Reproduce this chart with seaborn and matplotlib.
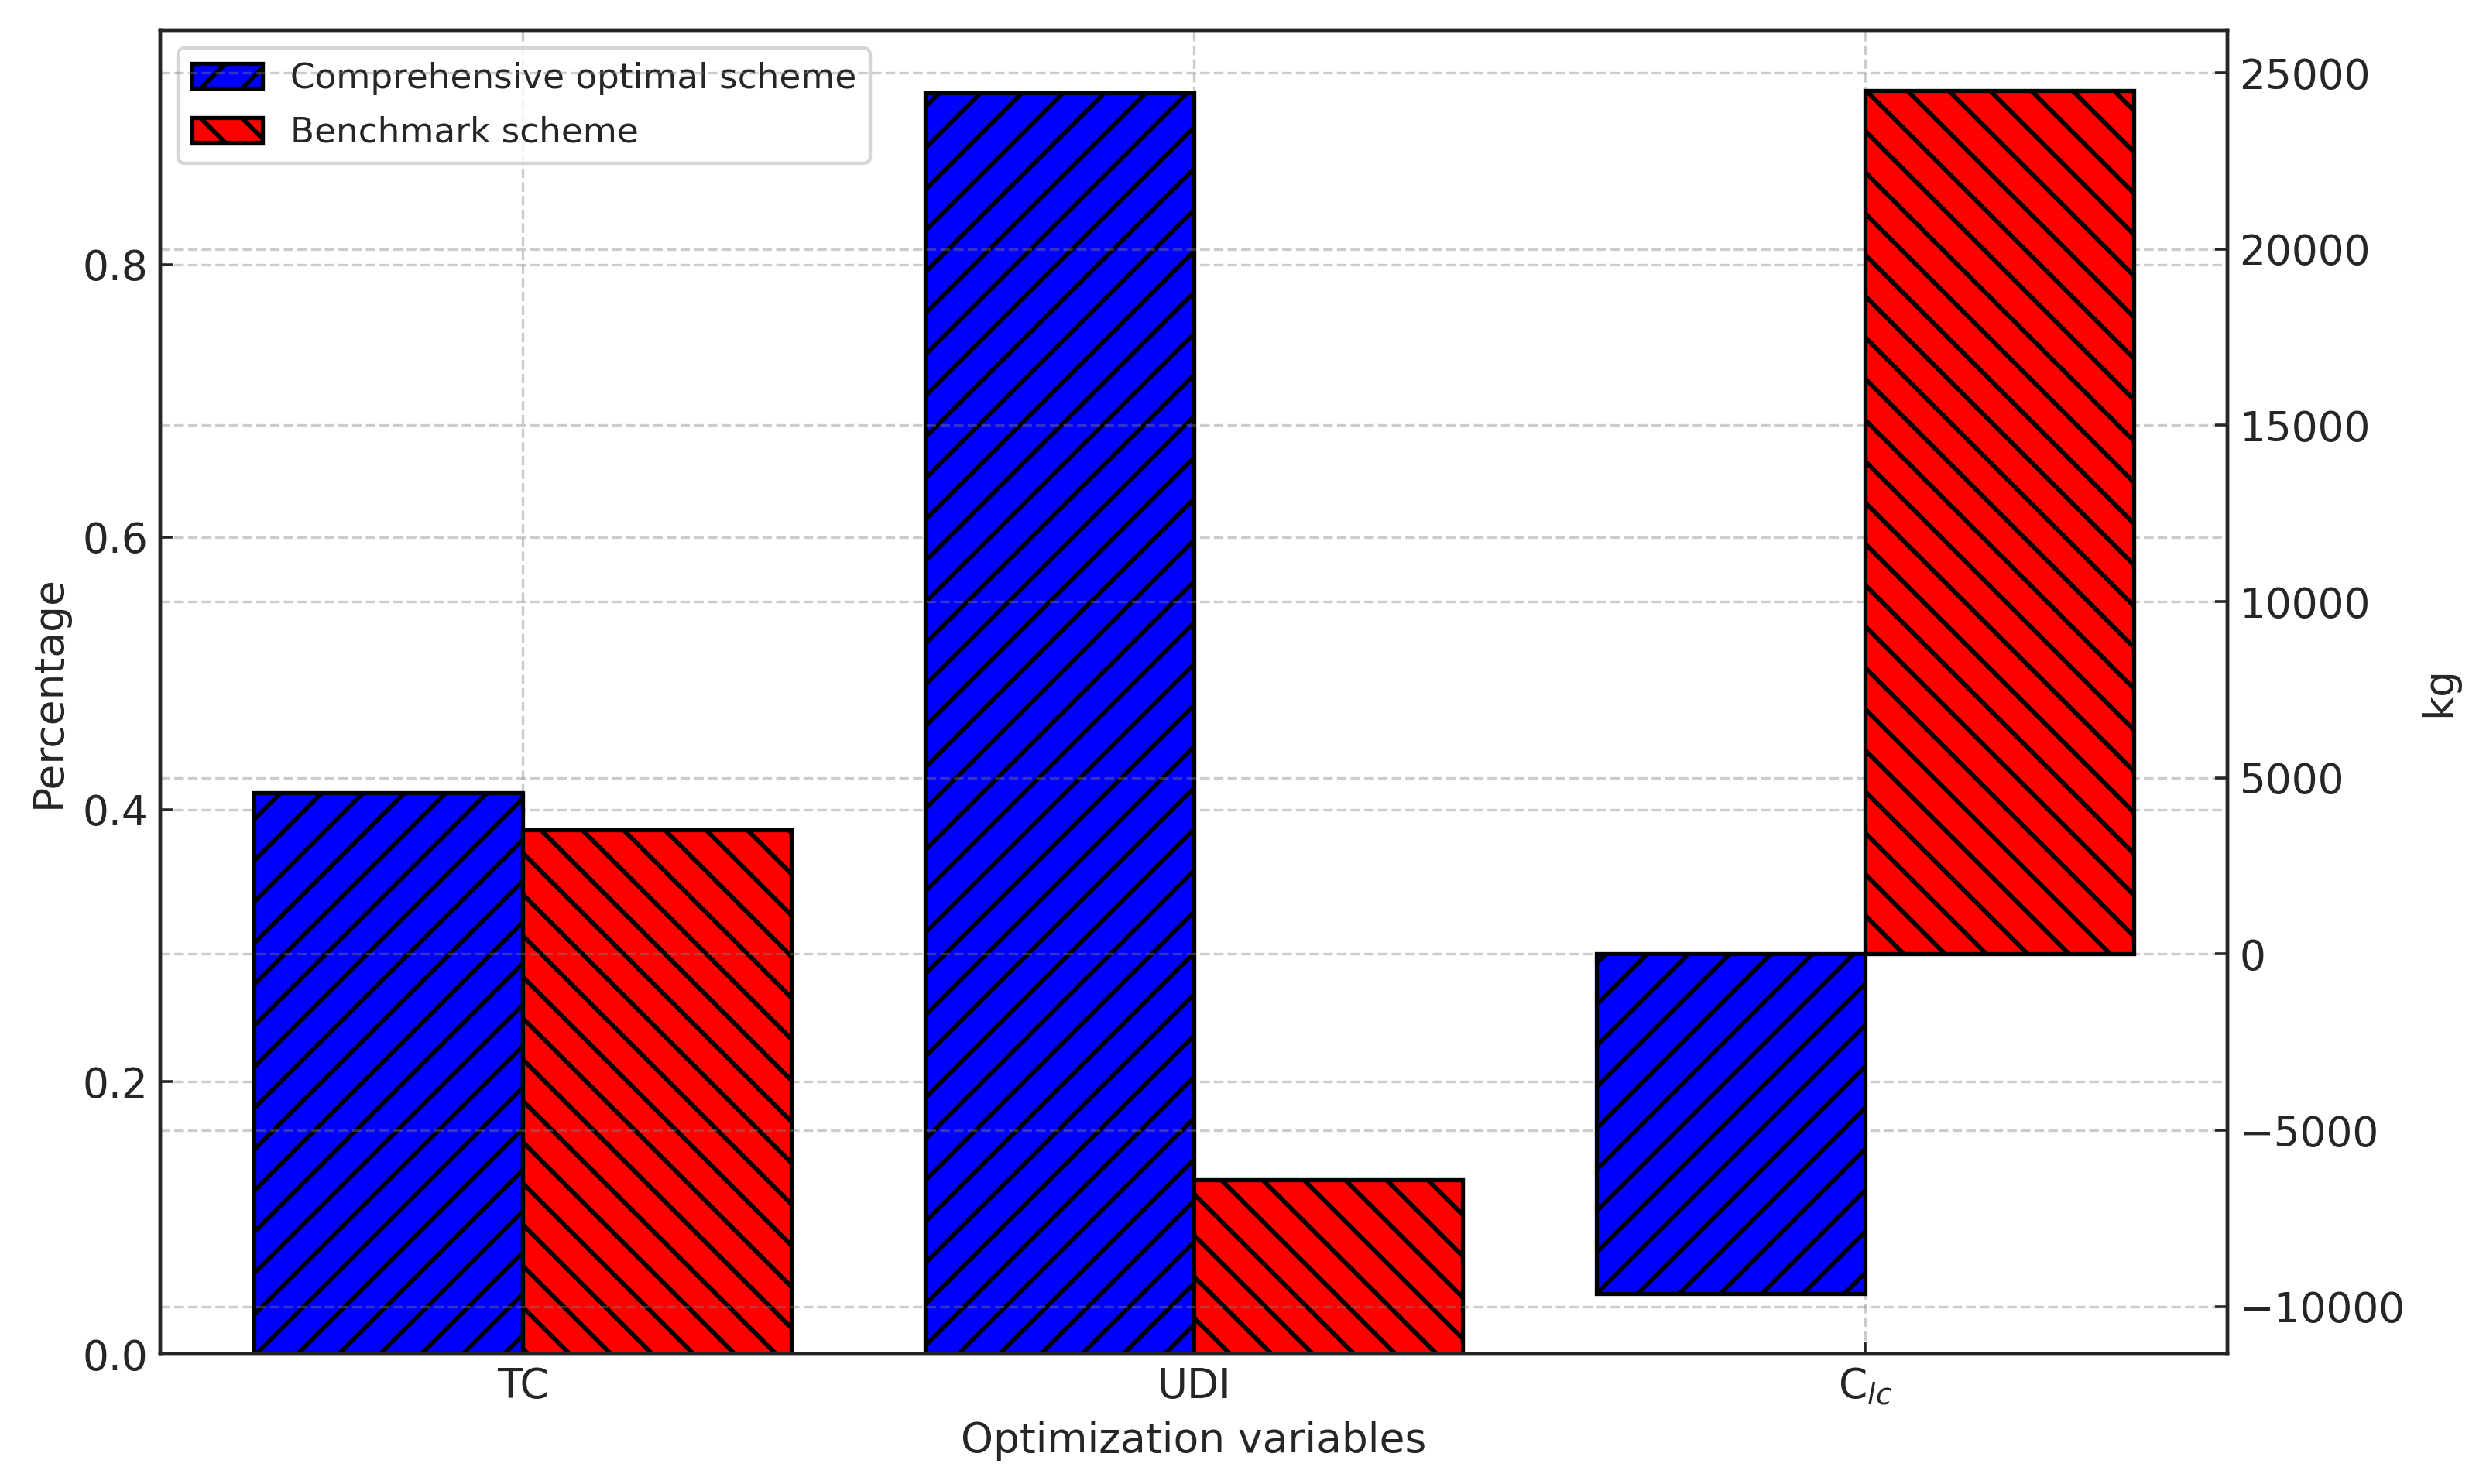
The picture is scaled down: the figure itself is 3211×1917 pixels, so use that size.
import numpy as np
import pandas as pd
import matplotlib
matplotlib.use("Agg")
import matplotlib.pyplot as plt
import seaborn as sns

# Datos
categories = ["TC", "UDI", "C$_{lc}$"]
schemes = ["Comprehensive optimal scheme", "Benchmark scheme"]
percent_optimal = [0.412, 0.926]     # TC, UDI
percent_benchmark = [0.385, 0.128]
kg_optimal = [-9640]                 # C_lc
kg_benchmark = [24505]

# Estilo
sns.set_style("ticks", {"xtick.direction": "in", "ytick.direction": "in"})
plt.rcParams["font.family"] = ["DejaVu Sans"]
plt.rcParams["axes.linewidth"] = 1.0
plt.rcParams["hatch.linewidth"] = 1.3

palette = {schemes[0]: "blue", schemes[1]: "red"}
hatches = ["//", "\\\\"]

df_pct = pd.DataFrame({
    "variable": categories[:2] * 2,
    "scheme": [schemes[0]] * 2 + [schemes[1]] * 2,
    "value": percent_optimal + percent_benchmark,
})
df_kg = pd.DataFrame({
    "variable": categories[2:] * 2,
    "scheme": schemes,
    "value": kg_optimal + kg_benchmark,
})

dpi = 320
fig, ax1 = plt.subplots(figsize=(3211 / dpi, 1917 / dpi), dpi=dpi)
fig.subplots_adjust(left=0.0645, right=0.896, top=0.9797, bottom=0.0876)

sns.barplot(data=df_pct, x="variable", y="value", hue="scheme",
            order=categories, hue_order=schemes, palette=palette,
            saturation=1, edgecolor="black", linewidth=1.2,
            errorbar=None, legend=False, ax=ax1)

ax2 = ax1.twinx()
sns.barplot(data=df_kg, x="variable", y="value", hue="scheme",
            order=categories, hue_order=schemes, palette=palette,
            saturation=1, edgecolor="black", linewidth=1.2,
            errorbar=None, legend=False, ax=ax2)

# Tramas
for ax in (ax1, ax2):
    for cont, h in zip(ax.containers, hatches):
        for bar in cont:
            bar.set_hatch(h)

ax1.set_xlim(-0.54, 2.54)

for ax in (ax1, ax2):
    ax.grid(True, linestyle="--", color="gray", alpha=0.4, linewidth=0.75)
    ax.tick_params(labelsize=12, direction="in")

ax2.yaxis.tick_right()
ax2.yaxis.set_label_position("right")

ax1.set_xlabel("Optimization variables", fontsize=12)
ax1.set_ylabel("Percentage", fontsize=12)
ax2.set_xlabel("")
ax2.set_ylabel("kg", fontsize=12)

ax1.legend(handles=ax1.containers[:2], labels=schemes, loc="upper left",
           fontsize=10.2, labelspacing=0.6)

fig.savefig("out.png", dpi=dpi)
